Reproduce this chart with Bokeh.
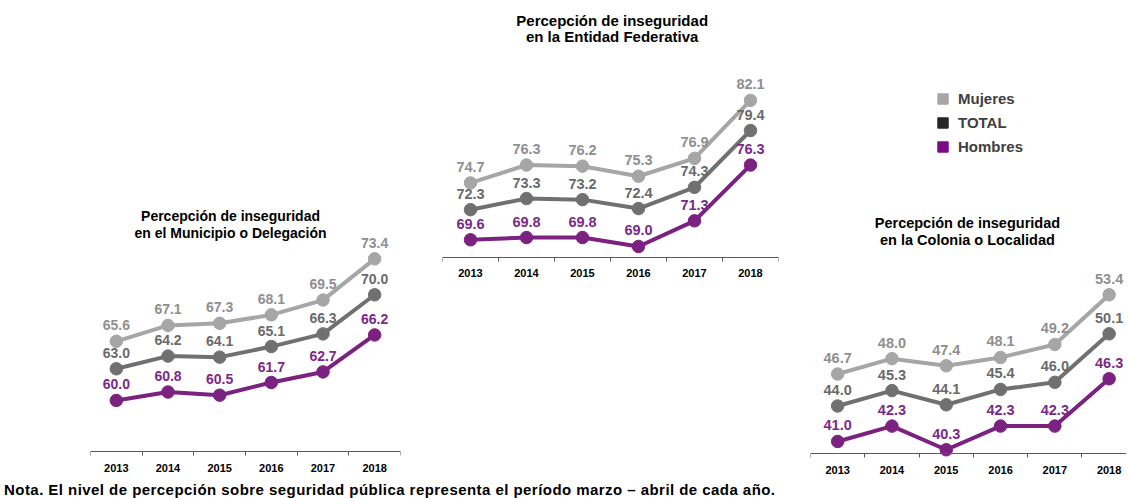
from bokeh.plotting import figure
from bokeh.models import Range1d, FixedTicker, Legend, LegendItem, Div, Spacer
from bokeh.layouts import row, column
from bokeh.core.properties import value
from bokeh.embed import file_html
from bokeh.resources import INLINE

# ---------------- data ----------------
years = [2013, 2014, 2015, 2016, 2017, 2018]

mun_mujeres = [65.6, 67.1, 67.3, 68.1, 69.5, 73.4]
mun_total = [63.0, 64.2, 64.1, 65.1, 66.3, 70.0]
mun_hombres = [60.0, 60.8, 60.5, 61.7, 62.7, 66.2]

ent_mujeres = [74.7, 76.3, 76.2, 75.3, 76.9, 82.1]
ent_total = [72.3, 73.3, 73.2, 72.4, 74.3, 79.4]
ent_hombres = [69.6, 69.8, 69.8, 69.0, 71.3, 76.3]

col_mujeres = [46.7, 48.0, 47.4, 48.1, 49.2, 53.4]
col_total = [44.0, 45.3, 44.1, 45.4, 46.0, 50.1]
col_hombres = [41.0, 42.3, 40.3, 42.3, 42.3, 46.3]

series_names = ["Mujeres", "TOTAL", "Hombres"]
title_mun = ["Percepción de inseguridad", "en el Municipio o Delegación"]
title_ent = ["Percepción de inseguridad", "en la Entidad Federativa"]
title_col = ["Percepción de inseguridad", "en la Colonia o Localidad"]
footnote = "Nota. El nivel de percepción sobre seguridad pública representa el período marzo – abril de cada año."

# ---------------- style ----------------
FONT = value("Liberation Sans")
line_colors = ["#a6a6a6", "#707070", "#7b2180"]
label_colors = ["#8f8f8f", "#6a6a6a", "#7b2a86"]
legend_colors = ["#a6a6a6", "#262626", "#7d0a85"]
H = 482
NAN = float("nan")


def make_panel(width, mbl, mbr, xr, yr, axis_at, data, title_lines, title_x,
               title_ys, title_size, label_size):
    p = figure(width=width, height=H, x_range=Range1d(*xr), y_range=Range1d(*yr),
               output_backend="svg", toolbar_location=None, title=None,
               y_axis_location=None, min_border_left=mbl, min_border_right=mbr,
               min_border_top=0, min_border_bottom=2, outline_line_color=None,
               background_fill_color="white", border_fill_color="white")
    p.xgrid.visible = False
    p.ygrid.visible = False
    ax = p.xaxis[0]
    ax.fixed_location = axis_at
    ax.ticker = FixedTicker(ticks=years,
                            minor_ticks=[y - 0.5 for y in years] + [years[-1] + 0.5])
    ax.major_label_overrides = {y: str(y) for y in years}
    ax.major_tick_line_color = None
    ax.major_tick_out = 0
    ax.major_tick_in = 0
    ax.minor_tick_out = 4
    ax.minor_tick_in = 0
    ax.minor_tick_line_color = "#595959"
    ax.axis_line_color = "#595959"
    ax.major_label_standoff = 8
    ax.major_label_text_font = "Liberation Sans"
    ax.major_label_text_font_size = "11px"
    ax.major_label_text_font_style = "bold"
    ax.major_label_text_color = "#000000"

    for vals, lc in zip(data, line_colors):
        p.line(years, vals, line_width=4, line_color=lc, line_join="round")
        p.scatter(years, vals, size=12.5, fill_color=lc, line_color=lc)
    for vals, tc in zip(data, label_colors):
        p.text(x=years, y=vals, text=[f"{v:.1f}" for v in vals], y_offset=-16,
               text_align="center", text_baseline="middle", text_font=FONT,
               text_font_size=label_size, text_font_style="bold", text_color=tc)
    p.text(x=[title_x, title_x], y=title_ys, text=title_lines, text_align="center",
           text_baseline="middle", text_font=FONT, text_font_size=title_size,
           text_font_style="bold", text_color="#000000")
    return p


p1 = make_panel(325, 10, 5, (2012.5, 2018.5), (52.43, 97.84), 55.17,
                [mun_mujeres, mun_total, mun_hombres], title_mun, 2015.21,
                [77.41, 75.80], "14px", "14px")
p2 = make_panel(370, 22, 12, (2012.5, 2018.5), (48.01, 91.06), 68.04,
                [ent_mujeres, ent_total, ent_hombres], title_ent, 2015.53,
                [89.27, 87.83], "15px", "14.5px")
p3 = make_panel(336, 20, 0, (2012.5, 2018.32), (37.70, 78.28), 39.96,
                [col_mujeres, col_total, col_hombres], title_col, 2015.39,
                [59.45, 58.05], "14.5px", "14.5px")

# legend (square swatches; the swatch renderers hold no visible geometry)
items = []
for name, c in zip(series_names, legend_colors):
    r = p3.quad(left=[NAN], right=[NAN], top=[NAN], bottom=[NAN],
                fill_color=c, line_color=c)
    items.append(LegendItem(label=name, renderers=[r]))
legend = Legend(items=items, location=(126, 325), orientation="vertical",
                glyph_width=13, glyph_height=13, label_height=13, spacing=7,
                padding=0, margin=0, border_line_color=None, background_fill_alpha=0,
                label_text_font="Liberation Sans", label_text_font_size="15px",
                label_text_font_style="bold", label_text_color="#404040",
                label_standoff=9)
p3.add_layout(legend)

note = Div(text=footnote, width=1126, height=15, margin=(0, 0, 0, 0),
           styles={"font-family": "Liberation Sans, Arial, sans-serif",
                   "font-size": "15px", "font-weight": "bold", "line-height": "15px",
                   "letter-spacing": "0.45px", "color": "#000000",
                   "white-space": "nowrap", "padding-left": "4px"})

layout = column(
    row(Spacer(width=80, height=H), p1, Spacer(width=15, height=H), p2, p3),
    note,
)

open("out.html", "w").write(file_html(layout, INLINE))
